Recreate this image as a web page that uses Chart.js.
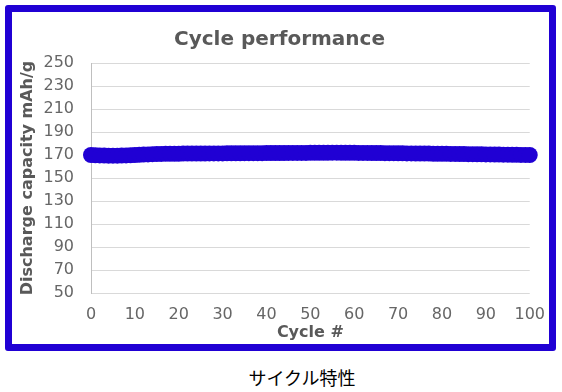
<!DOCTYPE html>
<html>
<head>
<meta charset="utf-8">
<script src="https://cdn.jsdelivr.net/npm/chart.js@4/dist/chart.umd.min.js"></script>
<style>
  body { margin: 0; background: #fff; width: 562px; height: 392px; position: relative; overflow: hidden; }
  #frame { position: absolute; left: 5px; top: 5px; width: 537px; height: 332px; border: 7px solid #2000d4; border-radius: 3px; }
  #frame canvas { position: absolute; left: 0; top: 0; }
  #caption { position: absolute; left: 0; top: 364px; width: 604px; text-align: center;
    font-family: "Noto Sans CJK JP", sans-serif; font-size: 18px; color: #000; }
</style>
</head>
<body>
<div id="frame"><canvas id="myChart" width="545" height="332"></canvas></div>
<div id="caption">サイクル特性</div>
<script>
const cycles = [];
for (let i = 0; i <= 100; i++) cycles.push(i);

// capacity per cycle, mAh/g
const capacity = [
  170.0,
  169.8, 169.6, 169.5, 169.4, 169.4, 169.4, 169.5, 169.6, 169.8, 170.0,
  170.2, 170.4, 170.5, 170.7, 170.8, 170.9, 171.0, 171.0, 171.1, 171.1,
  171.2, 171.2, 171.2, 171.3, 171.3, 171.3, 171.4, 171.4, 171.4, 171.4,
  171.5, 171.5, 171.5, 171.5, 171.6, 171.6, 171.6, 171.6, 171.6, 171.7,
  171.7, 171.7, 171.7, 171.7, 171.8, 171.8, 171.8, 171.8, 171.8, 171.9,
  171.9, 171.9, 171.9, 171.9, 172.0, 172.0, 171.9, 171.9, 171.9, 171.9,
  171.8, 171.8, 171.8, 171.7, 171.7, 171.7, 171.6, 171.6, 171.6, 171.5,
  171.5, 171.4, 171.4, 171.3, 171.3, 171.2, 171.2, 171.1, 171.1, 171.0,
  171.0, 170.9, 170.9, 170.8, 170.8, 170.7, 170.7, 170.6, 170.6, 170.5,
  170.5, 170.4, 170.4, 170.3, 170.3, 170.2, 170.2, 170.1, 170.1, 170.0
];

const yTicks = [50, 70, 90, 110, 130, 150, 170, 190, 210, 230, 250];
const xTicks = [0, 10, 20, 30, 40, 50, 60, 70, 80, 90, 100];

const blue = '#2000d4';
const grey = '#595959';

const data = {
  datasets: [{
    label: 'Capacity',
    data: cycles.map((c, i) => ({ x: c, y: capacity[i] })),
    borderColor: blue,
    backgroundColor: blue,
    borderWidth: 2,
    pointRadius: 8,
    pointBorderWidth: 0,
    pointBackgroundColor: blue,
    showLine: true,
    clip: false
  }]
};

const config = {
  type: 'scatter',
  data: data,
  options: {
    responsive: false,
    animation: false,
    layout: { padding: { left: 6, right: 16, top: 4, bottom: 0 } },
    plugins: {
      legend: { display: false },
      tooltip: { enabled: false },
      title: {
        display: true,
        text: 'Cycle performance',
        color: grey,
        font: { family: 'DejaVu Sans', size: 20, weight: 'bold' },
        padding: { top: 12, bottom: 11 }
      }
    },
    scales: {
      x: {
        type: 'linear',
        min: 0, max: 100,
        afterBuildTicks: axis => { axis.ticks = xTicks.map(v => ({ value: v })); },
        afterFit: axis => { axis.height = 51; },
        grid: { display: false, drawTicks: false },
        border: { display: false },
        ticks: { color: '#666', padding: 12, maxRotation: 0, autoSkip: false, font: { family: 'DejaVu Sans', size: 16 } },
        title: { display: true, text: 'Cycle #', color: grey, padding: { top: 0, bottom: 2 },
          font: { family: 'DejaVu Sans', size: 16, weight: 'bold' } }
      },
      y: {
        min: 50, max: 250,
        afterBuildTicks: axis => { axis.ticks = yTicks.map(v => ({ value: v })); },
        afterFit: axis => { axis.width = 73; },
        grid: { color: '#d9d9d9', drawTicks: false },
        border: { display: true, color: '#bfbfbf' },
        ticks: { color: '#666', padding: 17, autoSkip: false, font: { family: 'DejaVu Sans', size: 16 } },
        title: { display: true, text: 'Discharge capacity mAh/g', color: grey, padding: { top: 0, bottom: 7 },
          font: { family: 'DejaVu Sans', size: 16, weight: 'bold' } }
      }
    }
  }
};

const ctx = document.getElementById('myChart').getContext('2d');
new Chart(ctx, config);
</script>
</body>
</html>
